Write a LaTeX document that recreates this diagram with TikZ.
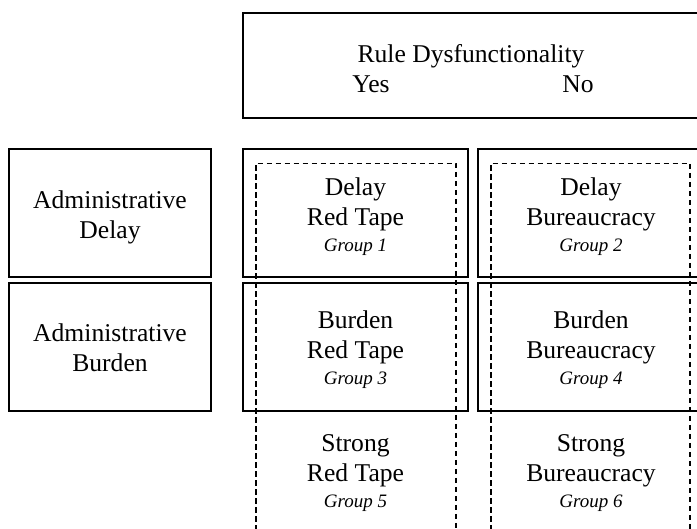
\documentclass[tikz,border=0pt]{standalone}
\usepackage{fontspec}
\setmainfont{Liberation Serif}
\newcommand{\grp}[1]{{\fontsize{19}{25}\selectfont\itshape #1}}

\begin{document}
\begin{tikzpicture}[x=1pt,y=-1pt,
		box/.style={line width=1.8pt},
		group/.style={line width=1.4pt,dash pattern=on 5.5pt off 3.5pt},
		txt/.style={align=center,inner sep=0pt,font=\fontsize{25.6}{30}\selectfont}]
		\useasboundingbox (0,0) rectangle (697,529);
		\clip (0,0) rectangle (697,529);

		% Draw the header box
		\draw[box] (243,13) rectangle (703,118);
		\node[txt,anchor=base] (rule) at (471,62.7) {Rule Dysfunctionality};
		\node[txt,anchor=base] (yes) at (371,92.7) {Yes};
		\node[txt,anchor=base] (no) at (578,92.7) {No};

		% Draw the row boxes
		\draw[box] (9,149) rectangle (211,277);
		\draw[box] (9,283) rectangle (211,411);
		\draw[box] (243,149) rectangle (468,277);
		\draw[box] (243,283) rectangle (468,411);
		\draw[box] (478,149) rectangle (703,277);
		\draw[box] (478,283) rectangle (703,411);

		% Draw the groups
		\draw[group] (256,540) -- (256,163.5) -- (456,163.5) -- (456,540);
		\draw[group] (491,540) -- (491,163.5) -- (690,163.5) -- (690,540);

		% Mark the rows
		\node[txt] (delay) at (110,217.5) {Administrative\\Delay};
		\node[txt] (burden) at (110,348) {Administrative\\Burden};

		% Mark the cells
		\node[txt] (g1) at (355.5,216.5) {Delay\\Red Tape\\[-4pt]\grp{Group 1}};
		\node[txt] (g2) at (591,216.5) {Delay\\Bureaucracy\\[-4pt]\grp{Group 2}};
		\node[txt] (g3) at (355.5,349.3) {Burden\\Red Tape\\[-4pt]\grp{Group 3}};
		\node[txt] (g4) at (591,349.3) {Burden\\Bureaucracy\\[-4pt]\grp{Group 4}};
		\node[txt] (g5) at (355.5,473.4) {Strong\\Red Tape\\[-4pt]\grp{Group 5}};
		\node[txt] (g6) at (591,473.4) {Strong\\Bureaucracy\\[-4pt]\grp{Group 6}};
	\end{tikzpicture}
\end{document}
